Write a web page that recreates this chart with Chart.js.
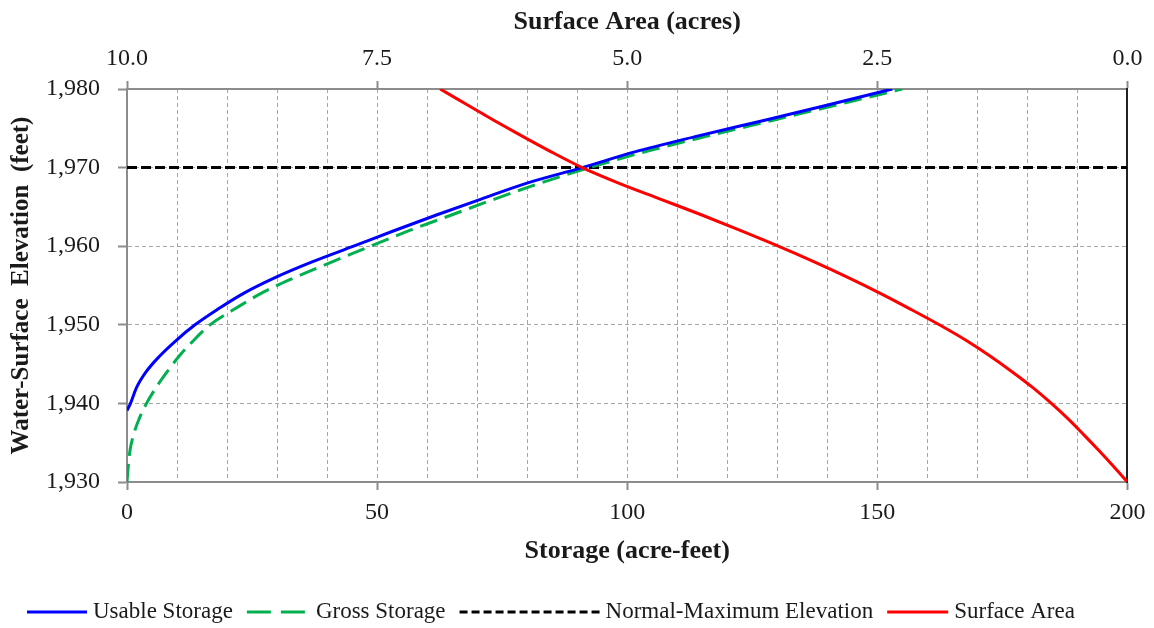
<!DOCTYPE html>
<html><head><meta charset="utf-8">
<script src="https://cdn.jsdelivr.net/npm/chart.js@4.4.1/dist/chart.umd.min.js"></script>
<style>html,body{margin:0;padding:0;background:#fff;}</style>
</head><body>
<canvas id="c" width="1154" height="628"></canvas>
<script>
// ---- data ----
const usableElev = [1939.1, 1940, 1942, 1944, 1946, 1948, 1950, 1952, 1954, 1956, 1958, 1960, 1962, 1964, 1966, 1968, 1970, 1972, 1974, 1976, 1978, 1980];
const usableStorage = [0, 0.7, 1.9, 3.8, 6.5, 9.8, 13.6, 18.2, 23.3, 29.6, 37.0, 45.3, 53.5, 62.0, 70.8, 79.8, 91.0, 101.5, 114.0, 127.3, 140.3, 153.0];

const grossElev = [1930, 1932, 1934, 1936, 1938, 1940, 1942, 1944, 1946, 1948, 1950, 1952, 1954, 1956, 1958, 1960, 1962, 1964, 1966, 1968, 1970, 1972, 1974, 1976, 1978, 1980];
const grossStorage = [0, 0.25, 0.6, 1.3, 2.4, 3.9, 5.8, 8.0, 10.4, 13.3, 16.6, 21.5, 26.8, 33.5, 41.0, 48.7, 56.5, 65.0, 73.5, 82.5, 92.5, 103.5, 116.0, 129.0, 142.0, 155.0];

const saElev = [1930, 1932, 1934, 1936, 1938, 1940, 1942, 1944, 1946, 1948, 1950, 1952, 1954, 1956, 1958, 1960, 1962, 1964, 1966, 1968, 1970, 1972, 1974, 1976, 1978, 1980];
const surfaceArea = [0, 0.14, 0.285, 0.435, 0.59, 0.76, 0.945, 1.15, 1.37, 1.61, 1.88, 2.17, 2.47, 2.79, 3.13, 3.49, 3.87, 4.26, 4.67, 5.08, 5.45, 5.76, 6.05, 6.33, 6.60, 6.87];

const normalMaxStorage = [0, 200];
const normalMaxElev = [1970, 1970];

const storageTicks = [0, 50, 100, 150, 200];
const areaTicks = [10.0, 7.5, 5.0, 2.5, 0.0];
const elevTicks = [1930, 1940, 1950, 1960, 1970, 1980];

const xTitle = 'Storage (acre-feet)';
const x2Title = 'Surface Area (acres)';
const yTitle = 'Water-Surface  Elevation  (feet)';
// --------------------------------------

const FONT = '"Liberation Serif", "Times New Roman", serif';
const AX = '#8c8c8c';
const GRID = '#a6a6a6';
const TXT = '#1a1a1a';
const toPts = (xs, ys) => xs.map((x, i) => ({x: x, y: ys[i]}));

// legend drawn as a Chart.js plugin (sample lengths differ per item in the reference)
const lineLegend = {
  id: 'lineLegend',
  afterDraw(chart, args, opts) {
    const ctx = chart.ctx;
    ctx.save();
    ctx.font = opts.font;
    ctx.fillStyle = TXT;
    ctx.textAlign = 'left';
    ctx.textBaseline = 'middle';
    let x = opts.startX;
    const y = opts.y;
    chart.data.datasets.forEach((ds, i) => {
      const L = opts.sampleLengths[i];
      ctx.save();
      ctx.strokeStyle = ds.borderColor;
      ctx.lineWidth = ds.borderWidth;
      ctx.setLineDash(ds.legendDash || ds.borderDash || []);
      ctx.beginPath();
      ctx.moveTo(x, y);
      ctx.lineTo(x + L, y);
      ctx.stroke();
      ctx.restore();
      x += L + opts.gapAfterSample;
      ctx.fillText(ds.label, x, y);
      x += ctx.measureText(ds.label).width + opts.gapAfterText;
    });
    ctx.restore();
  }
};

const common = {showLine: true, pointRadius: 0, pointHoverRadius: 0, fill: false, cubicInterpolationMode: 'monotone', borderWidth: 3};

new Chart(document.getElementById('c'), {
  type: 'scatter',
  data: {
    datasets: [
      Object.assign({}, common, {label: 'Usable Storage', data: toPts(usableStorage, usableElev), borderColor: '#0000ff', backgroundColor: '#0000ff', xAxisID: 'x', yAxisID: 'y', order: 1}),
      Object.assign({}, common, {label: 'Gross Storage', data: toPts(grossStorage, grossElev), borderColor: '#00b050', backgroundColor: '#00b050', borderDash: [18, 8], legendDash: [24, 10], xAxisID: 'x', yAxisID: 'y', order: 2}),
      Object.assign({}, common, {label: 'Normal-Maximum Elevation', data: toPts(normalMaxStorage, normalMaxElev), borderColor: '#000000', backgroundColor: '#000000', borderDash: [10, 4], legendDash: [8, 4], cubicInterpolationMode: 'default', tension: 0, xAxisID: 'x', yAxisID: 'y', order: 3}),
      Object.assign({}, common, {label: 'Surface Area', data: toPts(surfaceArea, saElev), borderColor: '#ff0000', backgroundColor: '#ff0000', xAxisID: 'x2', yAxisID: 'y', order: 0})
    ]
  },
  options: {
    responsive: false,
    animation: false,
    devicePixelRatio: 1,
    layout: {padding: {left: 0, right: 25, top: 0, bottom: 38}},
    plugins: {
      tooltip: {enabled: false},
      legend: {display: false},
      lineLegend: {
        font: '23px ' + FONT, y: 612, startX: 27,
        sampleLengths: [60, 63, 140, 61], gapAfterSample: 6, gapAfterText: 14
      }
    },
    scales: {
      x: {
        type: 'linear', position: 'bottom', min: 0, max: 200,
        afterFit: s => { s.height = 108; },
        ticks: {
          stepSize: 10, autoSkip: false, padding: 8.6, color: TXT,
          font: {family: FONT, size: 24},
          callback: v => storageTicks.includes(v) ? String(v) : ''
        },
        grid: {
          color: GRID, lineWidth: 1, tickLength: 8,
          tickColor: c => (c.tick && storageTicks.includes(c.tick.value)) ? AX : 'rgba(0,0,0,0)',
          tickWidth: 2
        },
        border: {display: true, color: AX, width: 2, dash: [4, 3]},
        title: {display: true, text: xTitle, color: TXT, font: {family: FONT, size: 26, weight: 'bold'}, padding: {top: 0, bottom: 23}}
      },
      x2: {
        type: 'linear', position: 'top', min: 0, max: 10, reverse: true,
        afterFit: s => { s.height = 89; },
        ticks: {
          stepSize: 2.5, autoSkip: false, padding: 7.6, color: TXT,
          font: {family: FONT, size: 24},
          callback: v => areaTicks.includes(v) ? v.toFixed(1) : ''
        },
        grid: {drawOnChartArea: false, drawTicks: true, tickLength: 8, tickColor: AX, tickWidth: 2},
        border: {display: true, color: AX, width: 2},
        title: {display: true, text: x2Title, color: TXT, font: {family: FONT, size: 26, weight: 'bold'}, padding: {top: 7, bottom: 0}}
      },
      y: {
        type: 'linear', position: 'left', min: 1930, max: 1980,
        afterFit: s => { s.width = 127; },
        ticks: {
          stepSize: 10, autoSkip: false, padding: 18, color: TXT,
          font: {family: FONT, size: 24},
          callback: v => elevTicks.includes(v) ? v.toLocaleString('en-US') : ''
        },
        grid: {color: GRID, lineWidth: 1, tickLength: 9, tickColor: AX, tickWidth: 2},
        border: {display: true, color: AX, width: 2, dash: [4, 3]},
        title: {display: true, text: yTitle, color: TXT, font: {family: FONT, size: 25, weight: 'bold'}, padding: {top: 7, bottom: 0}}
      },
      y2: {
        type: 'linear', position: 'right', min: 1930, max: 1980,
        afterFit: s => { s.width = 0; },
        ticks: {display: false},
        grid: {display: false, drawOnChartArea: false, drawTicks: false},
        border: {display: true, color: '#222222', width: 2}
      }
    }
  },
  plugins: [lineLegend]
});
</script>
</body></html>
